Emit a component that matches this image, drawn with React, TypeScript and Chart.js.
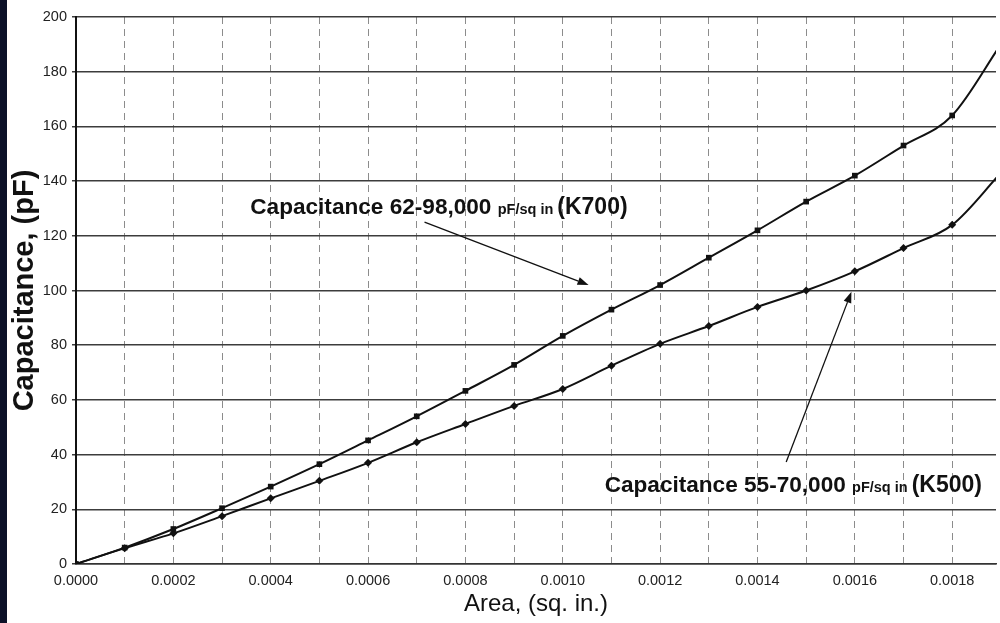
import { useEffect, useRef } from "react";
import { Chart, registerables } from "chart.js";

Chart.register(...registerables);

// Area in square inches
const AREA = [
  0, 0.0001, 0.0002, 0.0003, 0.0004, 0.0005, 0.0006, 0.0007, 0.0008, 0.0009,
  0.001, 0.0011, 0.0012, 0.0013, 0.0014, 0.0015, 0.0016, 0.0017, 0.0018, 0.0019,
];

// Capacitance in pF for the two dielectric grades
const K700 = [
  0, 6, 12.8, 20.4, 28.3, 36.5, 45.2, 54, 63.3, 72.8,
  83.4, 93, 102, 112, 122, 132.5, 142, 153, 164, 190,
];
const K500 = [
  0, 5.8, 11.2, 17.5, 24, 30.4, 37, 44.5, 51.2, 57.8,
  64, 72.5, 80.5, 87, 94, 100, 107, 115.5, 124, 143,
];

// Axis ranges
const X_MIN = 0;
const X_MAX = 0.00189;
const X_STEP = 0.0001;
const X_TICK_COUNT = 19; // 0.0000 … 0.0018
const Y_MIN = 0;
const Y_MAX = 200;
const Y_STEP = 20;

const X_TITLE = "Area, (sq. in.)";
const Y_TITLE = "Capacitance, (pF)";

// Callout labels: text runs [text, font size], baseline anchor, arrow tail and head (data units)
type Note = {
  parts: [string, number][];
  at: [number, number];
  tail: [number, number];
  head: [number, number];
};
const NOTES: Note[] = [
  {
    parts: [["Capacitance 62-98,000 ", 22.6], ["pF/sq in ", 14.5], ["(K700)", 23]],
    at: [0.000358, 128],
    tail: [0.000716, 125],
    head: [0.001053, 102],
  },
  {
    parts: [["Capacitance 55-70,000 ", 22.6], ["pF/sq in ", 14.5], ["(K500)", 23]],
    at: [0.001086, 26.3],
    tail: [0.001459, 37.3],
    head: [0.001593, 99.5],
  },
];

const FONT = "'Liberation Sans', Arial, Helvetica, sans-serif";

const calloutPlugin = {
  id: "callouts",
  afterDatasetsDraw(chart: any) {
    const { ctx, scales } = chart;
    const xs = scales.x;
    const ys = scales.y;
    ctx.save();
    ctx.fillStyle = "#111";
    ctx.strokeStyle = "#111";
    for (const n of NOTES) {
      // text
      let x = xs.getPixelForValue(n.at[0]);
      const y = ys.getPixelForValue(n.at[1]);
      ctx.textBaseline = "alphabetic";
      ctx.textAlign = "left";
      for (const [t, size] of n.parts) {
        ctx.font = `bold ${size}px ${FONT}`;
        ctx.fillText(t, x, y);
        x += ctx.measureText(t).width;
      }
      // arrow
      const x1 = xs.getPixelForValue(n.tail[0]);
      const y1 = ys.getPixelForValue(n.tail[1]);
      const x2 = xs.getPixelForValue(n.head[0]);
      const y2 = ys.getPixelForValue(n.head[1]);
      const ang = Math.atan2(y2 - y1, x2 - x1);
      const len = 11;
      const half = 4;
      const bx = x2 - len * Math.cos(ang);
      const by = y2 - len * Math.sin(ang);
      ctx.lineWidth = 1.3;
      ctx.beginPath();
      ctx.moveTo(x1, y1);
      ctx.lineTo(bx, by);
      ctx.stroke();
      ctx.beginPath();
      ctx.moveTo(x2, y2);
      ctx.lineTo(bx + half * Math.sin(ang), by - half * Math.cos(ang));
      ctx.lineTo(bx - half * Math.sin(ang), by + half * Math.cos(ang));
      ctx.closePath();
      ctx.fill();
    }
    ctx.restore();
  },
};

export default function App() {
  const ref = useRef<HTMLCanvasElement>(null);

  useEffect(() => {
    const canvas = ref.current;
    if (!canvas) return;
    const chart = new Chart(canvas, {
      type: "line",
      data: {
        datasets: [
          {
            label: "K700",
            data: AREA.map((a, i) => ({ x: a, y: K700[i] })),
            borderColor: "#111",
            backgroundColor: "#111",
            borderWidth: 2,
            pointStyle: "rect",
            pointRadius: 4,
            pointBorderWidth: 0,
            cubicInterpolationMode: "monotone",
          },
          {
            label: "K500",
            data: AREA.map((a, i) => ({ x: a, y: K500[i] })),
            borderColor: "#111",
            backgroundColor: "#111",
            borderWidth: 2,
            pointStyle: "rectRot",
            pointRadius: 4,
            pointBorderWidth: 0,
            cubicInterpolationMode: "monotone",
          },
        ],
      },
      options: {
        responsive: false,
        devicePixelRatio: 1,
        animation: false,
        layout: { padding: { top: 17, right: 0, bottom: 0, left: 0 } },
        plugins: { legend: { display: false }, tooltip: { enabled: false } },
        scales: {
          x: {
            type: "linear",
            min: X_MIN,
            max: X_MAX,
            afterFit: (s: any) => {
              s.height = 59;
            },
            afterBuildTicks: (s: any) => {
              s.ticks = Array.from({ length: X_TICK_COUNT }, (_, i) => ({
                value: i * X_STEP,
              }));
            },
            ticks: {
              autoSkip: false,
              maxRotation: 0,
              padding: 8,
              color: "#222",
              font: { family: FONT, size: 14.5 },
              callback: (v: any) => {
                const n = Math.round(Number(v) / X_STEP);
                return n % 2 === 0 ? (n * X_STEP).toFixed(4) : "";
              },
            },
            grid: {
              color: "#8c8c8c",
              lineWidth: 1,
              drawTicks: false,
            },
            border: { display: true, color: "#333", width: 1.5, dash: [7, 5] },
            title: {
              display: true,
              text: X_TITLE,
              color: "#111",
              font: { family: FONT, size: 24 },
              padding: { top: 0, bottom: 4 },
            },
          },
          y: {
            type: "linear",
            min: Y_MIN,
            max: Y_MAX,
            afterFit: (s: any) => {
              s.width = 76;
            },
            ticks: {
              stepSize: Y_STEP,
              padding: 5,
              color: "#222",
              font: { family: FONT, size: 14.5 },
            },
            grid: {
              color: "#3c3c3c",
              lineWidth: 1.5,
              tickLength: 4,
            },
            border: { display: true, color: "#111", width: 2 },
            title: {
              display: true,
              text: Y_TITLE,
              color: "#111",
              font: { family: FONT, size: 29, weight: "bold" },
              padding: { top: 8, bottom: 0 },
            },
          },
        },
      },
      plugins: [calloutPlugin],
    } as any);
    return () => chart.destroy();
  }, []);

  return (
    <div
      style={{
        position: "fixed",
        left: 0,
        top: 0,
        width: 1000,
        height: 623,
        background: "#fff",
        overflow: "hidden",
      }}
    >
      <canvas ref={ref} width={1000} height={623} style={{ display: "block" }} />
      <div
        style={{
          position: "absolute",
          left: 0,
          top: 0,
          width: 7,
          height: 623,
          background: "#0c1128",
        }}
      />
    </div>
  );
}
